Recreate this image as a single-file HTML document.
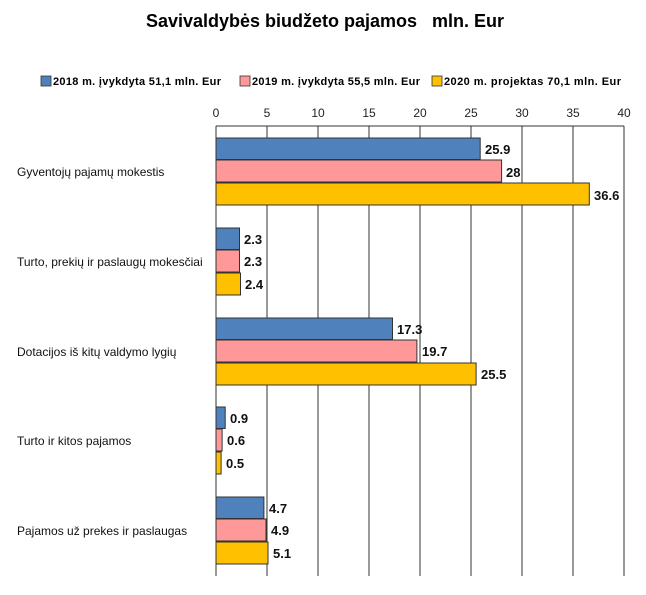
<!DOCTYPE html>
<html><head><meta charset="utf-8"><style>
body{margin:0;background:#fff;}
svg text{font-family:"Liberation Sans",sans-serif;}
</style></head><body>
<svg width="646" height="590" xmlns="http://www.w3.org/2000/svg">
<rect width="646" height="590" fill="#fff"/>
<text x="325" y="27" text-anchor="middle" font-size="18" font-weight="bold" xml:space="preserve">Savivaldybės biudžeto pajamos   mln. Eur</text>
<g font-size="11" font-weight="bold">
<rect x="41" y="76" width="10" height="10" fill="#4f81bd" stroke="#333" stroke-width="0.8"/>
<text x="53" y="85" textLength="168">2018 m. įvykdyta 51,1 mln. Eur</text>
<rect x="240" y="76" width="10" height="10" fill="#ff9999" stroke="#333" stroke-width="0.8"/>
<text x="252" y="85" textLength="168">2019 m. įvykdyta 55,5 mln. Eur</text>
<rect x="432" y="76" width="10" height="10" fill="#ffc000" stroke="#333" stroke-width="0.8"/>
<text x="444" y="85" textLength="177">2020 m. projektas 70,1 mln. Eur</text>
</g>
<g font-size="12" fill="#222" text-anchor="middle">
<text x="216" y="117">0</text><text x="267" y="117">5</text><text x="318" y="117">10</text><text x="369" y="117">15</text><text x="420" y="117">20</text><text x="471" y="117">25</text><text x="522" y="117">30</text><text x="573" y="117">35</text><text x="624" y="117">40</text>
</g>
<g stroke="#333" stroke-width="1">
<line x1="216" y1="126" x2="624" y2="126"/>
<line x1="216" y1="126" x2="216" y2="576"/>
<line x1="267" y1="126" x2="267" y2="576"/>
<line x1="318" y1="126" x2="318" y2="576"/>
<line x1="369" y1="126" x2="369" y2="576"/>
<line x1="420" y1="126" x2="420" y2="576"/>
<line x1="471" y1="126" x2="471" y2="576"/>
<line x1="522" y1="126" x2="522" y2="576"/>
<line x1="573" y1="126" x2="573" y2="576"/>
<line x1="624" y1="126" x2="624" y2="576"/>
</g>
<g stroke="#333" stroke-width="1">
<rect x="216" y="138" width="264.2" height="21.5" fill="#4f81bd"/>
<rect x="216" y="160" width="285.6" height="22" fill="#ff9999"/>
<rect x="216" y="183" width="373.3" height="22" fill="#ffc000"/>
<rect x="216" y="228" width="23.5" height="21.5" fill="#4f81bd"/>
<rect x="216" y="250" width="23.5" height="22" fill="#ff9999"/>
<rect x="216" y="273" width="24.5" height="22" fill="#ffc000"/>
<rect x="216" y="318" width="176.5" height="21.5" fill="#4f81bd"/>
<rect x="216" y="340" width="200.9" height="22" fill="#ff9999"/>
<rect x="216" y="363" width="260.1" height="22" fill="#ffc000"/>
<rect x="216" y="407" width="9.2" height="21.5" fill="#4f81bd"/>
<rect x="216" y="429" width="6.1" height="22" fill="#ff9999"/>
<rect x="216" y="452" width="5.1" height="22" fill="#ffc000"/>
<rect x="216" y="497" width="47.9" height="21.5" fill="#4f81bd"/>
<rect x="216" y="519" width="50" height="22" fill="#ff9999"/>
<rect x="216" y="542" width="52" height="22" fill="#ffc000"/>
</g>
<g font-size="13" font-weight="bold" fill="#111">
<text x="485" y="154">25.9</text><text x="506" y="177">28</text><text x="594" y="200">36.6</text>
<text x="244" y="244">2.3</text><text x="244" y="266">2.3</text><text x="245" y="289">2.4</text>
<text x="397" y="334">17.3</text><text x="422" y="356">19.7</text><text x="481" y="379">25.5</text>
<text x="230" y="423">0.9</text><text x="227" y="445">0.6</text><text x="226" y="468">0.5</text>
<text x="269" y="513">4.7</text><text x="271" y="535">4.9</text><text x="273" y="558">5.1</text>
</g>
<g font-size="12" fill="#111">
<text x="17" y="176">Gyventojų pajamų  mokestis</text>
<text x="17" y="266">Turto, prekių ir paslaugų mokesčiai</text>
<text x="17" y="356">Dotacijos iš kitų valdymo lygių</text>
<text x="17" y="445">Turto ir kitos pajamos</text>
<text x="17" y="535">Pajamos už prekes ir paslaugas</text>
</g>
</svg>
</body></html>
